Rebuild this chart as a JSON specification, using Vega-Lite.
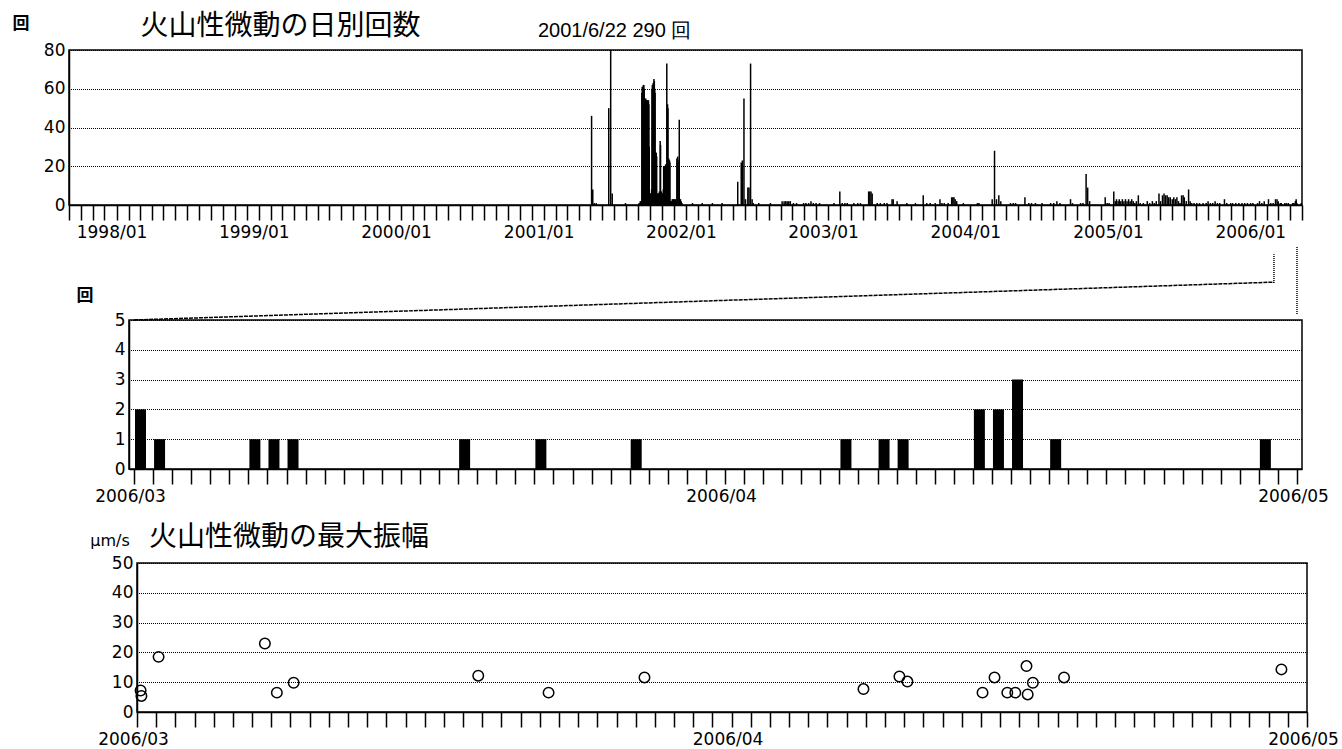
{
"$schema": "https://vega.github.io/schema/vega-lite/v6.json",
"background": "white",
"padding": {"left": 11, "top": 11, "right": 0, "bottom": 0},
"config": {
 "view": {"stroke": "#000", "strokeWidth": 1.5},
 "axis": {"domainColor": "#000", "domainWidth": 1.5, "tickColor": "#000", "tickWidth": 1.5, "labelColor": "#000", "labelFont": "DejaVu Sans", "labelFontSize": 17, "titleColor": "#000", "titleFontWeight": "normal", "gridColor": "#000", "gridDash": [1, 1], "gridDashOffset": 0.5, "gridWidth": 1, "labelAngle": 0, "labelFlush": false, "labelOverlap": false}
},
"datasets": {
 "daily": [
  {"date": "2001-05-04", "count": 46}, {"date": "2001-05-07", "count": 8}, {"date": "2001-05-11", "count": 1}, {"date": "2001-05-16", "count": 1},
  {"date": "2001-06-17", "count": 50}, {"date": "2001-06-22", "count": 290}, {"date": "2001-06-26", "count": 6}, {"date": "2001-07-30", "count": 1},
  {"date": "2001-09-03", "count": 1}, {"date": "2001-09-06", "count": 2}, {"date": "2001-09-08", "count": 2},
  {"date": "2001-09-10", "count": 58}, {"date": "2001-09-11", "count": 61}, {"date": "2001-09-12", "count": 60}, {"date": "2001-09-13", "count": 61}, {"date": "2001-09-14", "count": 62}, {"date": "2001-09-15", "count": 62}, {"date": "2001-09-16", "count": 60}, {"date": "2001-09-17", "count": 55}, {"date": "2001-09-18", "count": 54}, {"date": "2001-09-19", "count": 54}, {"date": "2001-09-20", "count": 55}, {"date": "2001-09-21", "count": 54}, {"date": "2001-09-22", "count": 54}, {"date": "2001-09-23", "count": 53}, {"date": "2001-09-24", "count": 54}, {"date": "2001-09-25", "count": 54}, {"date": "2001-09-26", "count": 54}, {"date": "2001-09-27", "count": 54}, {"date": "2001-09-28", "count": 52}, {"date": "2001-09-29", "count": 30},
  {"date": "2001-09-30", "count": 6}, {"date": "2001-10-01", "count": 5}, {"date": "2001-10-02", "count": 6}, {"date": "2001-10-03", "count": 5}, {"date": "2001-10-04", "count": 6}, {"date": "2001-10-05", "count": 8},
  {"date": "2001-10-06", "count": 60}, {"date": "2001-10-07", "count": 62}, {"date": "2001-10-08", "count": 61}, {"date": "2001-10-09", "count": 63}, {"date": "2001-10-10", "count": 62}, {"date": "2001-10-11", "count": 65}, {"date": "2001-10-12", "count": 64}, {"date": "2001-10-13", "count": 60}, {"date": "2001-10-14", "count": 58},
  {"date": "2001-10-15", "count": 27}, {"date": "2001-10-16", "count": 26}, {"date": "2001-10-17", "count": 27}, {"date": "2001-10-18", "count": 25},
  {"date": "2001-10-19", "count": 6}, {"date": "2001-10-20", "count": 5}, {"date": "2001-10-21", "count": 6}, {"date": "2001-10-22", "count": 6}, {"date": "2001-10-23", "count": 5}, {"date": "2001-10-24", "count": 6}, {"date": "2001-10-25", "count": 7},
  {"date": "2001-10-26", "count": 5}, {"date": "2001-10-27", "count": 33}, {"date": "2001-10-28", "count": 31},
  {"date": "2001-10-29", "count": 6}, {"date": "2001-10-30", "count": 7}, {"date": "2001-10-31", "count": 6}, {"date": "2001-11-01", "count": 6}, {"date": "2001-11-02", "count": 5}, {"date": "2001-11-03", "count": 6}, {"date": "2001-11-04", "count": 8},
  {"date": "2001-11-05", "count": 20}, {"date": "2001-11-06", "count": 20}, {"date": "2001-11-07", "count": 19}, {"date": "2001-11-08", "count": 20}, {"date": "2001-11-09", "count": 20}, {"date": "2001-11-10", "count": 21}, {"date": "2001-11-11", "count": 20},
  {"date": "2001-11-12", "count": 6}, {"date": "2001-11-13", "count": 73}, {"date": "2001-11-14", "count": 6}, {"date": "2001-11-15", "count": 52}, {"date": "2001-11-16", "count": 50},
  {"date": "2001-11-17", "count": 23}, {"date": "2001-11-18", "count": 24}, {"date": "2001-11-19", "count": 23}, {"date": "2001-11-20", "count": 23}, {"date": "2001-11-21", "count": 22},
  {"date": "2001-11-23", "count": 2}, {"date": "2001-11-25", "count": 2}, {"date": "2001-11-27", "count": 3}, {"date": "2001-11-29", "count": 3}, {"date": "2001-12-01", "count": 3}, {"date": "2001-12-03", "count": 3}, {"date": "2001-12-05", "count": 3}, {"date": "2001-12-07", "count": 2},
  {"date": "2001-12-09", "count": 24}, {"date": "2001-12-10", "count": 24}, {"date": "2001-12-11", "count": 25}, {"date": "2001-12-12", "count": 23},
  {"date": "2001-12-15", "count": 44}, {"date": "2001-12-16", "count": 3}, {"date": "2001-12-18", "count": 3}, {"date": "2001-12-20", "count": 2}, {"date": "2001-12-22", "count": 1},
  {"date": "2002-01-18", "count": 1}, {"date": "2002-02-12", "count": 1}, {"date": "2002-03-10", "count": 1}, {"date": "2002-04-04", "count": 1},
  {"date": "2002-05-14", "count": 12}, {"date": "2002-05-23", "count": 22}, {"date": "2002-05-26", "count": 23}, {"date": "2002-05-30", "count": 55}, {"date": "2002-06-03", "count": 3}, {"date": "2002-06-09", "count": 9}, {"date": "2002-06-12", "count": 9}, {"date": "2002-06-16", "count": 73}, {"date": "2002-06-20", "count": 3}, {"date": "2002-06-23", "count": 1},
  {"date": "2002-07-07", "count": 1}, {"date": "2002-08-06", "count": 1}, {"date": "2002-09-05", "count": 2}, {"date": "2002-09-10", "count": 2}, {"date": "2002-09-14", "count": 2}, {"date": "2002-09-18", "count": 2}, {"date": "2002-09-22", "count": 2}, {"date": "2002-09-26", "count": 2},
  {"date": "2002-10-04", "count": 1}, {"date": "2002-10-12", "count": 1}, {"date": "2002-10-30", "count": 1}, {"date": "2002-11-05", "count": 1}, {"date": "2002-11-12", "count": 1}, {"date": "2002-11-18", "count": 2}, {"date": "2002-11-24", "count": 1}, {"date": "2002-12-01", "count": 1}, {"date": "2002-12-10", "count": 1},
  {"date": "2003-01-16", "count": 1}, {"date": "2003-01-31", "count": 7}, {"date": "2003-02-06", "count": 1}, {"date": "2003-02-13", "count": 1}, {"date": "2003-02-19", "count": 1}, {"date": "2003-03-08", "count": 1}, {"date": "2003-03-18", "count": 1}, {"date": "2003-03-25", "count": 1},
  {"date": "2003-04-15", "count": 7}, {"date": "2003-04-18", "count": 7}, {"date": "2003-04-21", "count": 7}, {"date": "2003-04-24", "count": 6}, {"date": "2003-05-07", "count": 1}, {"date": "2003-05-15", "count": 1}, {"date": "2003-05-25", "count": 1}, {"date": "2003-06-01", "count": 1},
  {"date": "2003-06-14", "count": 3}, {"date": "2003-06-17", "count": 3}, {"date": "2003-06-27", "count": 2}, {"date": "2003-07-22", "count": 1}, {"date": "2003-08-13", "count": 1}, {"date": "2003-09-02", "count": 5}, {"date": "2003-09-11", "count": 1}, {"date": "2003-09-20", "count": 1},
  {"date": "2003-10-03", "count": 1}, {"date": "2003-10-15", "count": 3}, {"date": "2003-10-20", "count": 1}, {"date": "2003-10-26", "count": 1}, {"date": "2003-11-05", "count": 1}, {"date": "2003-11-14", "count": 4}, {"date": "2003-11-17", "count": 4}, {"date": "2003-11-20", "count": 4}, {"date": "2003-11-23", "count": 3}, {"date": "2003-11-27", "count": 2}, {"date": "2003-12-14", "count": 1},
  {"date": "2004-01-19", "count": 1}, {"date": "2004-01-23", "count": 1}, {"date": "2004-02-26", "count": 3}, {"date": "2004-03-03", "count": 28}, {"date": "2004-03-08", "count": 3}, {"date": "2004-03-14", "count": 5}, {"date": "2004-03-19", "count": 2},
  {"date": "2004-04-13", "count": 1}, {"date": "2004-04-20", "count": 1}, {"date": "2004-04-26", "count": 1}, {"date": "2004-05-20", "count": 4}, {"date": "2004-05-30", "count": 1}, {"date": "2004-06-06", "count": 1}, {"date": "2004-06-16", "count": 1}, {"date": "2004-07-03", "count": 1}, {"date": "2004-07-25", "count": 1},
  {"date": "2004-08-02", "count": 1}, {"date": "2004-08-10", "count": 2}, {"date": "2004-08-18", "count": 1}, {"date": "2004-09-14", "count": 3}, {"date": "2004-09-19", "count": 1}, {"date": "2004-10-10", "count": 1}, {"date": "2004-10-16", "count": 1}, {"date": "2004-10-24", "count": 16}, {"date": "2004-10-28", "count": 9}, {"date": "2004-11-02", "count": 2},
  {"date": "2004-12-12", "count": 4}, {"date": "2004-12-17", "count": 1}, {"date": "2004-12-22", "count": 1},
  {"date": "2005-01-03", "count": 7}, {"date": "2005-01-07", "count": 2}, {"date": "2005-01-10", "count": 3}, {"date": "2005-01-14", "count": 2}, {"date": "2005-01-17", "count": 3}, {"date": "2005-01-21", "count": 2}, {"date": "2005-01-25", "count": 3}, {"date": "2005-01-29", "count": 2},
  {"date": "2005-02-02", "count": 3}, {"date": "2005-02-06", "count": 2}, {"date": "2005-02-10", "count": 3}, {"date": "2005-02-14", "count": 2}, {"date": "2005-02-18", "count": 3}, {"date": "2005-02-22", "count": 2}, {"date": "2005-02-26", "count": 1},
  {"date": "2005-03-02", "count": 2}, {"date": "2005-03-07", "count": 5}, {"date": "2005-03-12", "count": 1}, {"date": "2005-03-20", "count": 1}, {"date": "2005-03-30", "count": 2}, {"date": "2005-04-05", "count": 1}, {"date": "2005-04-12", "count": 2}, {"date": "2005-04-17", "count": 1}, {"date": "2005-04-22", "count": 2}, {"date": "2005-04-29", "count": 6},
  {"date": "2005-05-03", "count": 2}, {"date": "2005-05-08", "count": 5}, {"date": "2005-05-12", "count": 6}, {"date": "2005-05-16", "count": 5}, {"date": "2005-05-20", "count": 5}, {"date": "2005-05-24", "count": 4}, {"date": "2005-05-28", "count": 4},
  {"date": "2005-06-02", "count": 3}, {"date": "2005-06-06", "count": 4}, {"date": "2005-06-10", "count": 3}, {"date": "2005-06-14", "count": 4}, {"date": "2005-06-18", "count": 2}, {"date": "2005-06-22", "count": 1}, {"date": "2005-06-26", "count": 5}, {"date": "2005-06-30", "count": 5},
  {"date": "2005-07-03", "count": 4}, {"date": "2005-07-08", "count": 2}, {"date": "2005-07-14", "count": 8}, {"date": "2005-07-18", "count": 2}, {"date": "2005-07-22", "count": 1}, {"date": "2005-07-28", "count": 1},
  {"date": "2005-08-04", "count": 1}, {"date": "2005-08-11", "count": 1}, {"date": "2005-08-20", "count": 1}, {"date": "2005-08-28", "count": 1}, {"date": "2005-09-02", "count": 2}, {"date": "2005-09-08", "count": 1}, {"date": "2005-09-14", "count": 1}, {"date": "2005-09-20", "count": 2}, {"date": "2005-09-26", "count": 1},
  {"date": "2005-10-02", "count": 1}, {"date": "2005-10-14", "count": 3}, {"date": "2005-10-20", "count": 1}, {"date": "2005-10-30", "count": 1}, {"date": "2005-11-04", "count": 1}, {"date": "2005-11-12", "count": 1}, {"date": "2005-11-20", "count": 1}, {"date": "2005-11-28", "count": 1},
  {"date": "2005-12-05", "count": 1}, {"date": "2005-12-12", "count": 1}, {"date": "2005-12-20", "count": 1}, {"date": "2005-12-26", "count": 1},
  {"date": "2006-01-07", "count": 1}, {"date": "2006-01-12", "count": 2}, {"date": "2006-01-18", "count": 1}, {"date": "2006-01-24", "count": 2}, {"date": "2006-02-04", "count": 3}, {"date": "2006-02-10", "count": 1}, {"date": "2006-02-16", "count": 1}, {"date": "2006-02-22", "count": 3}, {"date": "2006-02-26", "count": 3},
  {"date": "2006-03-01", "count": 2}, {"date": "2006-03-02", "count": 1}, {"date": "2006-03-07", "count": 1}, {"date": "2006-03-08", "count": 1}, {"date": "2006-03-09", "count": 1}, {"date": "2006-03-18", "count": 1}, {"date": "2006-03-22", "count": 1}, {"date": "2006-03-27", "count": 1},
  {"date": "2006-04-07", "count": 1}, {"date": "2006-04-09", "count": 1}, {"date": "2006-04-10", "count": 1}, {"date": "2006-04-14", "count": 2}, {"date": "2006-04-15", "count": 2}, {"date": "2006-04-16", "count": 3}, {"date": "2006-04-18", "count": 1}, {"date": "2006-04-29", "count": 1}
 ],
 "amp": [
  {"time": "2006-03-01T04:30:00Z", "amp": 7.2}, {"time": "2006-03-01T05:30:00Z", "amp": 5.4}, {"time": "2006-03-02T03:00:00Z", "amp": 18.5},
  {"time": "2006-03-07T16:00:00Z", "amp": 23.0}, {"time": "2006-03-08T07:00:00Z", "amp": 6.5}, {"time": "2006-03-09T04:00:00Z", "amp": 9.8},
  {"time": "2006-03-18T19:00:00Z", "amp": 12.2}, {"time": "2006-03-22T11:00:00Z", "amp": 6.5}, {"time": "2006-03-27T11:00:00Z", "amp": 11.6},
  {"time": "2006-04-07T21:00:00Z", "amp": 7.7}, {"time": "2006-04-09T18:00:00Z", "amp": 11.9}, {"time": "2006-04-10T04:00:00Z", "amp": 10.2},
  {"time": "2006-04-14T02:00:00Z", "amp": 6.5}, {"time": "2006-04-14T17:00:00Z", "amp": 11.6}, {"time": "2006-04-15T09:00:00Z", "amp": 6.5},
  {"time": "2006-04-15T19:00:00Z", "amp": 6.5}, {"time": "2006-04-16T09:00:00Z", "amp": 15.4}, {"time": "2006-04-16T10:30:00Z", "amp": 5.9},
  {"time": "2006-04-16T17:00:00Z", "amp": 9.8}, {"time": "2006-04-18T08:00:00Z", "amp": 11.6}, {"time": "2006-04-29T16:00:00Z", "amp": 14.3}
 ]
},
"spacing": 17,
"vconcat": [
 {
  "spacing": 3,
  "vconcat": [
   {
    "width": 1233, "height": 155,
    "layer": [
     {
      "data": {"name": "daily"},
      "mark": {"type": "rule", "color": "#000", "strokeWidth": 1.5, "clip": true},
      "encoding": {
       "x": {"field": "date", "type": "temporal",
        "scale": {"type": "utc", "domain": [{"year": 1997, "month": 9, "date": 1, "utc": true}, {"year": 2006, "month": 5, "date": 1, "utc": true}]},
        "axis": {"tickCount": {"interval": "month", "step": 1}, "tickSize": 15, "labelPadding": 4, "labelOffset": -5, "grid": false,
         "labelExpr": "utcmonth(datum.value) === 0 ? utcFormat(datum.value, '%Y/%m') : ''",
         "encode": {"ticks": {"update": {"y2": {"signal": "utcmonth(datum.value) === 0 ? 15 : 7"}}}},
         "title": "火山性微動の日別回数", "titleX": 211, "titleY": -179, "titleAlign": "center", "titleBaseline": "middle", "titleFont": "Noto Sans CJK JP", "titleFontSize": 28}},
       "y": {"field": "count", "type": "quantitative", "scale": {"domain": [0, 80], "clamp": true, "nice": false},
        "axis": {"values": [0, 20, 40, 60, 80], "ticks": false, "labelPadding": 4, "grid": true,
         "title": "回", "titleX": -48.5, "titleY": -26.5, "titleAngle": 0, "titleAlign": "center", "titleBaseline": "middle", "titleFont": "Noto Sans CJK JP", "titleFontSize": 17, "titleFontWeight": "bold"}},
       "y2": {"datum": 0}
      }
     },
     {
      "data": {"values": [{"date": "2001-06-22", "count": 290, "label": "2001/6/22 290 回"}]},
      "mark": {"type": "text", "dx": 4, "dy": -19, "baseline": "middle", "align": "center", "font": "Liberation Sans", "fontSize": 20, "color": "#000"},
      "encoding": {
       "x": {"field": "date", "type": "temporal", "axis": null},
       "y": {"field": "count", "type": "quantitative", "axis": null},
       "text": {"field": "label"}
      }
     }
    ],
    "resolve": {"axis": {"x": "independent", "y": "independent"}}
   },
   {
    "spacing": 0,
    "hconcat": [
     {"width": 6, "height": 10, "data": {"values": []}, "mark": "point", "view": {"stroke": null}},
     {
      "width": 1173, "height": 149,
      "layer": [
       {
        "data": {"name": "daily"},
        "transform": [{"filter": "time(datum.date) >= utc(2006, 2, 1)"}],
        "mark": {"type": "bar", "color": "#000", "size": 11, "align": "left", "xOffset": 1},
        "encoding": {
         "x": {"field": "date", "type": "temporal",
          "scale": {"type": "utc", "domain": [{"year": 2006, "month": 3, "date": 1, "utc": true}, {"year": 2006, "month": 5, "date": 1, "utc": true}]},
          "axis": {"tickCount": {"interval": "day", "step": 1}, "tickSize": 15, "labelPadding": 4, "labelOffset": -4, "grid": false,
           "labelExpr": "utcdate(datum.value) === 1 ? utcFormat(datum.value, '%Y/%m') : ''",
           "encode": {"ticks": {"update": {"y2": {"signal": "utcdate(datum.value) === 1 ? 15 : 7"}}}},
           "title": null}},
         "y": {"field": "count", "type": "quantitative", "scale": {"domain": [0, 5], "nice": false},
          "axis": {"values": [0, 1, 2, 3, 4, 5], "ticks": false, "labelPadding": 4, "grid": true,
           "title": "回", "titleX": -44.5, "titleY": -24.5, "titleAngle": 0, "titleAlign": "center", "titleBaseline": "middle", "titleFont": "Noto Sans CJK JP", "titleFontSize": 17, "titleFontWeight": "bold"}}
        }
       },
       {
        "data": {"values": [{}]},
        "mark": {"type": "rule", "color": "#000", "strokeWidth": 1.5, "strokeDash": [4, 1]},
        "encoding": {
         "x": {"datum": {"year": 2006, "month": 3, "date": 1, "utc": true}, "type": "temporal", "axis": null},
         "y": {"datum": 5, "type": "quantitative", "axis": null},
         "x2": {"datum": {"year": 2006, "month": 4, "date": 29, "hours": 19, "utc": true}},
         "y2": {"datum": 6.27}
        }
       },
       {
        "data": {"values": [{}]},
        "mark": {"type": "rule", "color": "#000", "strokeWidth": 1.5, "strokeDash": [1, 1]},
        "encoding": {
         "x": {"datum": {"year": 2006, "month": 4, "date": 29, "hours": 19, "utc": true}, "type": "temporal", "axis": null},
         "y": {"datum": 6.24, "type": "quantitative", "axis": null},
         "y2": {"datum": 7.21}
        }
       },
       {
        "data": {"values": [{}]},
        "mark": {"type": "rule", "color": "#000", "strokeWidth": 1.5, "strokeDash": [1, 1]},
        "encoding": {
         "x": {"datum": {"year": 2006, "month": 5, "date": 1, "utc": true}, "type": "temporal", "axis": null},
         "y": {"datum": 5.2, "type": "quantitative", "axis": null},
         "y2": {"datum": 7.48}
        }
       }
      ],
      "resolve": {"axis": {"x": "independent", "y": "independent"}}
     }
    ]
   }
  ]
 },
 {
  "spacing": 0,
  "hconcat": [
   {"width": 20, "height": 10, "data": {"values": []}, "mark": "point", "view": {"stroke": null}},
   {
    "width": 1170, "height": 149,
    "data": {"name": "amp"},
    "mark": {"type": "point", "shape": "circle", "filled": false, "color": "#000", "strokeWidth": 1.5, "size": 110, "opacity": 1},
    "encoding": {
     "x": {"field": "time", "type": "temporal",
      "scale": {"type": "utc", "domain": [{"year": 2006, "month": 3, "date": 1, "utc": true}, {"year": 2006, "month": 5, "date": 1, "utc": true}]},
      "axis": {"tickCount": {"interval": "day", "step": 1}, "tickSize": 15, "labelPadding": 4, "labelOffset": -4, "grid": false,
       "labelExpr": "utcdate(datum.value) === 1 ? utcFormat(datum.value, '%Y/%m') : ''",
       "encode": {"ticks": {"update": {"y2": {"signal": "utcdate(datum.value) === 1 ? 15 : 7"}}}},
       "title": "火山性微動の最大振幅", "titleX": 151.5, "titleY": -175, "titleAlign": "center", "titleBaseline": "middle", "titleFont": "Noto Sans CJK JP", "titleFontSize": 28}},
     "y": {"field": "amp", "type": "quantitative", "scale": {"domain": [0, 50], "nice": false},
      "axis": {"values": [0, 10, 20, 30, 40, 50], "ticks": false, "labelPadding": 4, "grid": true,
       "title": "μm/s", "titleX": -27.5, "titleY": -23, "titleAngle": 0, "titleAlign": "center", "titleBaseline": "middle", "titleFont": "DejaVu Sans", "titleFontSize": 16}}
    }
   }
  ]
 }
]
}
